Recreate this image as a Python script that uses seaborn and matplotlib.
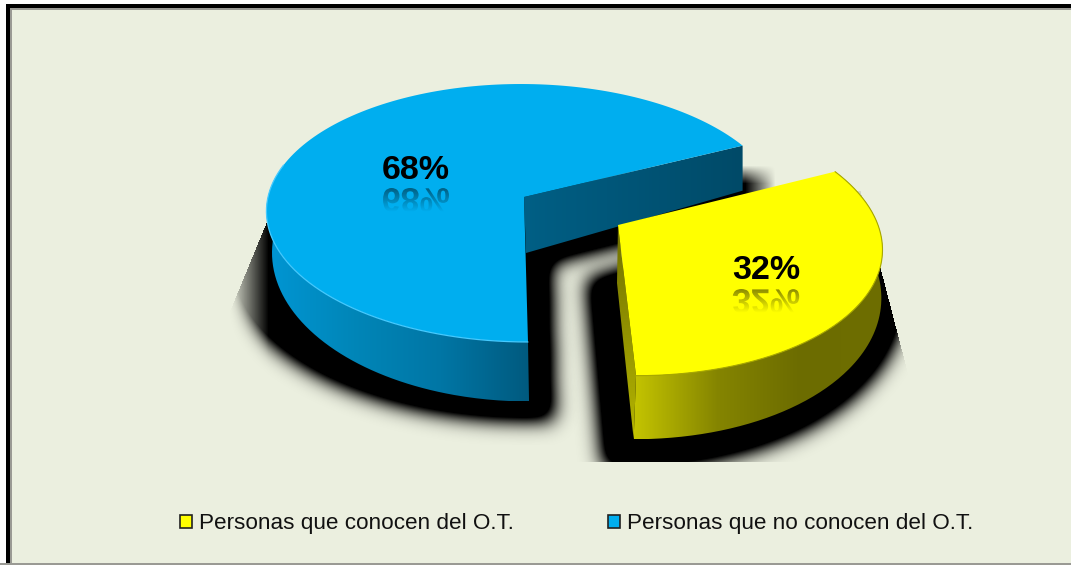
import numpy as np
import matplotlib
matplotlib.use("Agg")
import matplotlib.pyplot as plt
import seaborn as sns
from matplotlib.colors import LinearSegmentedColormap
from matplotlib.font_manager import FontProperties
from matplotlib.patches import PathPatch, Rectangle
from matplotlib.path import Path
from matplotlib.textpath import TextPath
from matplotlib.transforms import Affine2D

# ── Data ─────────────────────────────────────────────────────────────────────
categories = ["Personas que conocen del O.T.", "Personas que no conocen del O.T."]
shares = [32, 68]
top_colors = ["#ffff00", "#00aeef"]

W, H = 1071, 565
BG = "#ebefdf"

# perspective of the disc: x0, y0 (apex), w, h, k (depth), s (shear)
YELLOW_TOP = dict(x0=618, y0=225, w=260, h=132, k=0.124, s=-15.8)
YELLOW_BOT = dict(x0=617, y0=283, w=263, h=150, k=0.04, s=-16)
BLUE_TOP = dict(x0=524, y0=197, w=256, h=127, k=0.124, s=-3.5)
BLUE_BOT = dict(x0=526, y0=253, w=254, h=147, k=0.01, s=-3)
YELLOW_SHADOW = dict(x0=610, y0=280, w=292, h=180, k=0.04, s=-16)
BLUE_SHADOW = dict(x0=526, y0=262, w=296, h=156, k=0.01, s=-3)

sns.set_theme(style="white")
plt.rcParams["font.family"] = ["Liberation Sans", "DejaVu Sans"]
palette = sns.color_palette(top_colors)


def project(theta_deg, p):
    t = np.radians(theta_deg)
    u, v = np.cos(t), np.sin(t)
    d = 1 + p["k"] * v
    return p["x0"] + (p["w"] * u + p["s"] * v) / d, p["y0"] - p["h"] * v / d


def arc(t1, t2, p, n=160):
    x, y = project(np.linspace(t1, t2, n), p)
    return np.column_stack([x, y])


def sector(t1, t2, p):
    return np.vstack([[p["x0"], p["y0"]], arc(t1, t2, p)])


def gradient_fill(ax, poly, colors, z, horizontal=True):
    cmap = LinearSegmentedColormap.from_list("g", colors)
    x0, y0 = poly.min(axis=0)
    x1, y1 = poly.max(axis=0)
    ramp = np.linspace(0, 1, 256)
    ramp = ramp[None, :] if horizontal else ramp[:, None]
    im = ax.imshow(ramp, cmap=cmap, extent=(x0, x1, y1, y0), aspect="auto",
                   interpolation="bilinear", zorder=z)
    im.set_clip_path(Path(poly), ax.transData)


def blur(a, sigma):
    r = int(3 * sigma)
    g = np.exp(-0.5 * (np.arange(-r, r + 1) / sigma) ** 2)
    g /= g.sum()
    a = np.apply_along_axis(lambda c: np.convolve(c, g, mode="same"), 0, a)
    return np.apply_along_axis(lambda c: np.convolve(c, g, mode="same"), 1, a)


def shadow(ax, polys, keep, z, sigma=10, gain=1.75):
    yy, xx = np.mgrid[0:H, 0:W]
    pts = np.column_stack([xx.ravel() + 0.5, yy.ravel() + 0.5])
    mask = np.zeros((H, W))
    for poly in polys:
        mask = np.maximum(mask, Path(poly).contains_points(pts).reshape(H, W).astype(float))
    alpha = np.clip(blur(mask, sigma) * gain, 0, 1) * keep(xx, yy)
    rgba = np.zeros((H, W, 4))
    rgba[..., 3] = alpha
    ax.imshow(rgba, extent=(0, W, H, 0), aspect="auto", zorder=z)


def reflected_label(ax, txt, cx, top, z, size):
    fp = FontProperties(family="Liberation Sans", weight="bold")
    tp = TextPath((0, 0), txt, size=size, prop=fp)
    box = tp.get_extents()
    # y axis is inverted here, so the untouched glyph path comes out mirrored
    tr = Affine2D().translate(-box.x0 - box.width / 2, -box.y0).translate(cx, top)
    patch = PathPatch(tr.transform_path(tp), fc="none", ec="none", transform=ax.transData)
    ax.add_patch(patch)
    rgba = np.zeros((64, 2, 4))
    rgba[..., 3] = np.linspace(0.48, 0.0, 64)[:, None]
    im = ax.imshow(rgba, extent=(cx - box.width, cx + box.width, top + box.height, top),
                   aspect="auto", interpolation="bilinear", zorder=z)
    im.set_clip_path(patch)


fig = plt.figure(figsize=(W / 100, H / 100), dpi=100, facecolor="white")
ax = fig.add_axes([0, 0, 1, 1])

# pie angles come from the shares
wedges, _ = ax.pie(shares, startangle=25.2, counterclock=False, colors=palette)
(y_t1, y_t2), (b_t1, b_t2) = [(w.theta1, w.theta2) for w in wedges]
for w in wedges:
    w.remove()
ax.set_aspect("auto")

# panel
ax.add_patch(Rectangle((0, 0), W, H, fc="white", ec="none", zorder=0))
ax.add_patch(Rectangle((6, 4), W, H, fc="black", ec="none", zorder=0.1))
ax.add_patch(Rectangle((10, 8), W, H, fc="#9a9a94", ec="none", zorder=0.2))
ax.add_patch(Rectangle((12, 10), W, H, fc=BG, ec="none", zorder=0.3))
ax.add_patch(Rectangle((0, 563), W, 2, fc="#9a9a94", ec="none", zorder=0.4))


def blue_keep(x, y):
    side = ((x - 265) * 80 + (y - 225) * 33 > 0).astype(float)
    fade = np.clip((x - 228) / 40, 0, 1) * np.clip((775 - x) / 30, 0, 1)
    return side * fade * (y < 445) * np.clip((y - 165) / 18, 0, 1)


def yellow_keep(x, y):
    side = ((908 - x) * 100 - (375 - y) * 26 > 0).astype(float)
    return side * (y < 462) * (y > 190)


# shadows
shadow(ax,
       [sector(b_t1, b_t2, BLUE_SHADOW),
        sector(b_t1, b_t2, {**BLUE_SHADOW, "x0": BLUE_SHADOW["x0"] + 24})],
       blue_keep, 1)
shadow(ax,
       [sector(y_t1, y_t2, YELLOW_SHADOW),
        sector(y_t1, y_t2, {**YELLOW_SHADOW, "x0": YELLOW_SHADOW["x0"] - 22})],
       yellow_keep, 2)

# blue slice
rim = np.vstack([arc(b_t2, -190, BLUE_TOP), arc(-190, b_t2, BLUE_BOT)])
gradient_fill(ax, rim, ["#0096d4", "#0086b8", "#0076a5", "#005a7f"], 3)
corner_top = arc(b_t1, b_t1, BLUE_TOP, 1)[0]
corner_bot = arc(b_t1, b_t1, BLUE_BOT, 1)[0]
wall = np.array([[BLUE_TOP["x0"], BLUE_TOP["y0"]], corner_top,
                 [corner_top[0], corner_bot[1]], [BLUE_BOT["x0"], BLUE_BOT["y0"]]])
gradient_fill(ax, wall, ["#005f85", "#004a68"], 3.5)
ax.fill(*sector(b_t1, b_t2, BLUE_TOP).T, color=palette[1], lw=0, zorder=4)
ax.plot(*arc(-90, -195, BLUE_TOP).T, color="#45caff", lw=0.9, zorder=4.1)

# yellow slice
apex_bot = np.array([YELLOW_BOT["x0"], YELLOW_BOT["y0"]])
front_top = arc(-90, -90, YELLOW_TOP, 1)[0]
front_bot = arc(-90, -90, YELLOW_BOT, 1)[0]
gradient_fill(ax, np.array([[YELLOW_TOP["x0"], YELLOW_TOP["y0"]], front_top, front_bot, apex_bot]),
              ["#6f6f00", "#b5b500"], 5, horizontal=False)
rim = np.vstack([arc(y_t1, y_t2, YELLOW_TOP), arc(y_t2, y_t1, YELLOW_BOT)])
gradient_fill(ax, rim, ["#c4c400", "#858500", "#6c6c00", "#6e6e00"], 5.5)
ax.fill(*sector(y_t1, y_t2, YELLOW_TOP).T, color=palette[0], lw=0, zorder=6)
ax.plot(*arc(y_t1, y_t2, YELLOW_TOP).T, color="#a8a800", lw=0.8, zorder=6.1)

# value labels
label_pos = [(766, 279, 289), (416, 179, 188)]
for value, (cx, base, refl_top) in zip(shares, label_pos):
    ax.text(cx, base, f"{value}%", ha="center", va="baseline", fontsize=24.5,
            fontweight="bold", color="black", zorder=8)
    reflected_label(ax, f"{value}%", cx, refl_top, 7, 34)

ax.set_xlim(0, W)
ax.set_ylim(H, 0)
ax.axis("off")

# legend
handles = [Rectangle((0, 0), 1, 1, fc=c, ec="#222222", lw=1.2) for c in palette]
ax.legend(handles, categories, ncol=2, frameon=False, loc="center left",
          bbox_to_anchor=(180, 524), bbox_transform=ax.transData, fontsize=16.2,
          handlelength=0.53, handleheight=0.53, handletextpad=0.3, columnspacing=4.2,
          borderpad=0, borderaxespad=0, labelcolor="#111111")

fig.savefig("out.png", dpi=100, facecolor="white")
